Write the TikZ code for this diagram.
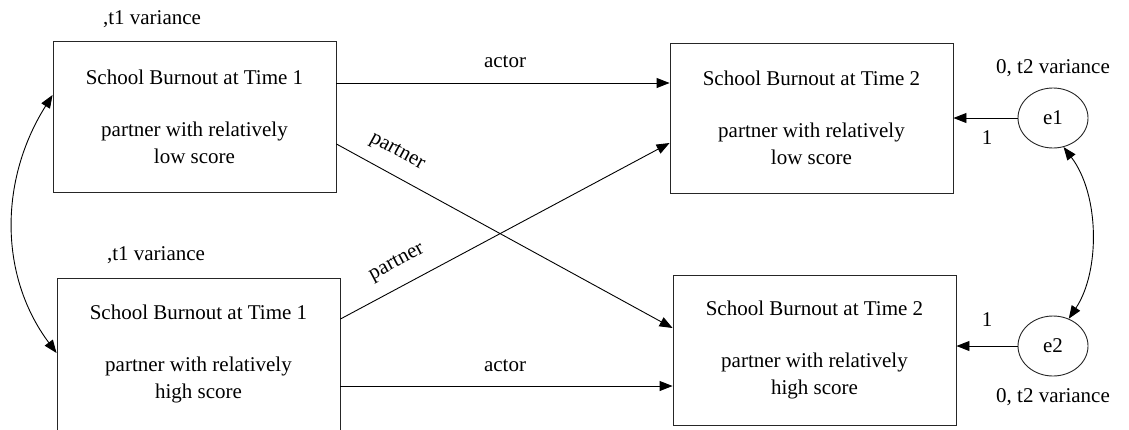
\documentclass[tikz,border=0pt]{standalone}
\usepackage{fontspec}
\setmainfont{Liberation Serif}
\newfontfamily\diagfont{Liberation Serif}
\usetikzlibrary{arrows.meta,shapes.geometric}

\tikzset{
  varbox/.style={draw=black!85, line width=0.9pt, minimum width=283pt,
    minimum height=151pt, inner sep=0pt, align=center,
    font=\diagfont\fontsize{21}{27}\selectfont},
  errnode/.style={draw=black!85, line width=0.9pt, ellipse, minimum width=70pt,
    minimum height=60pt, inner sep=0pt, font=\diagfont\fontsize{21}{27}\selectfont},
  lbl/.style={inner sep=0pt, font=\diagfont\fontsize{21}{27}\selectfont},
  arr/.style={line width=0.9pt, -{Triangle[length=13pt,width=10pt]}},
  darr/.style={line width=0.9pt, {Triangle[length=13pt,width=10pt]}-{Triangle[length=13pt,width=10pt]}},
}

\begin{document}
\begin{tikzpicture}[x=1pt,y=-1pt]
\useasboundingbox (0,0) rectangle (1129,429);

% observed variables
\node[varbox] (A) at (194.5,116.5)
  {School Burnout at Time 1\\[25pt]partner with relatively\\low score};
\node[varbox, minimum height=152pt] (B) at (198.5,354)
  {School Burnout at Time 1\\[25pt]partner with relatively\\high score};
\node[varbox, minimum height=150pt] (C) at (811.5,118)
  {School Burnout at Time 2\\[25pt]partner with relatively\\low score};
\node[varbox, minimum height=150pt] (D) at (814.5,350)
  {School Burnout at Time 2\\[25pt]partner with relatively\\high score};

% residuals
\node[errnode] (e1) at (1053,118) {e1};
\node[errnode] (e2) at (1053,346) {e2};

% variance labels
\node[lbl] (vA) at (152,19) {,t1 variance};
\node[lbl] (vB) at (156,255) {,t1 variance};
\node[lbl] (ve1) at (1053,68) {0, t2 variance};
\node[lbl] (ve2) at (1053,397) {0, t2 variance};

% actor paths
\draw[arr] (A.east |- 0,83) -- (C.west |- 0,83);
\draw[arr] (B.east |- 0,386) -- (D.west |- 0,386);
\node[lbl] (aA) at (505,62) {actor};
\node[lbl] (aB) at (505,366) {actor};

% partner paths
\draw[arr] (A.east |- 0,144) -- (D.west |- 0,328);
\draw[arr] (B.east |- 0,319) -- (C.west |- 0,143);
\node[lbl, rotate=-28.6] (pA) at (397,152) {partner};
\node[lbl, rotate=28] (pB) at (397,263) {partner};

% residual paths
\draw[arr] (e1.west) -- (C.east |- e1.west);
\draw[arr] (e2.west) -- (D.east |- e2.west);
\node[lbl] (one1) at (987,138) {1};
\node[lbl] (one2) at (987,320) {1};

% covariances
\draw[darr] (A.west |- 0,95) .. controls (-1,180) and (-1,276) .. (B.west |- 0,353);
\draw[darr] (e1.-70) .. controls (1100,195) and (1100,272) .. (e2.60);
\end{tikzpicture}
\end{document}
